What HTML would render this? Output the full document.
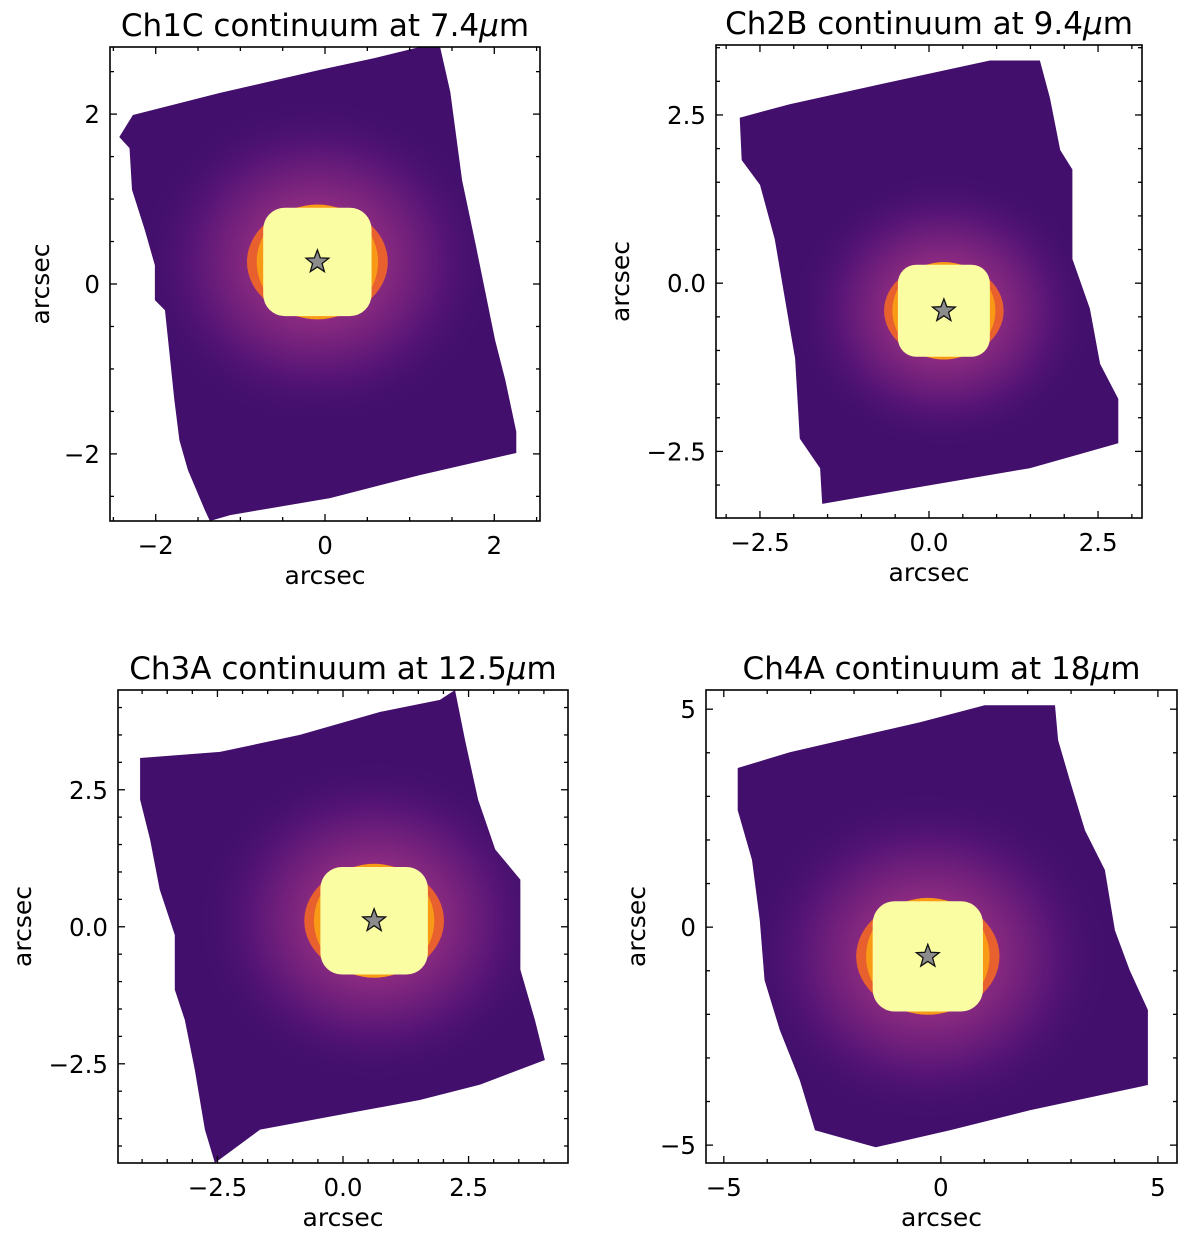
<!DOCTYPE html>
<html><head><meta charset="utf-8"><style>
html,body{margin:0;padding:0;background:#fff;}
svg{display:block;font-family:"DejaVu Sans","Liberation Sans",sans-serif;}
</style></head><body>
<svg id="fig" width="1200" height="1243" viewBox="0 0 1200 1243"></svg>
<script>
const titles = ["Ch1C continuum at 7.4", "Ch2B continuum at 9.4", "Ch3A continuum at 12.5", "Ch4A continuum at 18"];
const boxes = [[110,47,540,521],[716,45,1142,518],[118,690,568,1163],[706,690,1177,1163]];
const xlims = [[-2.54,2.54],[-3.15,3.15],[-4.48,4.48],[-5.41,5.44]];
const ylims = [[-2.79,2.79],[-3.49,3.54],[-4.31,4.32],[-5.41,5.44]];
const xticks = [[-2,0,2],[-2.5,0,2.5],[-2.5,0,2.5],[-5,0,5]];
const xtickLabels = [["\u22122","0","2"],["\u22122.5","0.0","2.5"],["\u22122.5","0.0","2.5"],["\u22125","0","5"]];
const yticks = [[-2,0,2],[-2.5,0,2.5],[-2.5,0,2.5],[-5,0,5]];
const ytickLabels = [["\u22122","0","2"],["\u22122.5","0.0","2.5"],["\u22122.5","0.0","2.5"],["\u22125","0","5"]];
const minorSteps = [0.5,0.5,0.5,1];
const footprint1 = [[-2.43,1.73],[-2.27,1.99],[-1.24,2.25],[-0.06,2.52],[0.59,2.66],[1.12,2.79],[1.36,2.79],[1.48,2.26],[1.62,1.22],[1.78,0.46],[2.01,-0.66],[2.13,-1.13],[2.26,-1.74],[2.26,-1.99],[1.12,-2.25],[0.06,-2.52],[-1.12,-2.72],[-1.36,-2.79],[-1.42,-2.66],[-1.62,-2.19],[-1.72,-1.84],[-1.78,-1.36],[-1.89,-0.31],[-2.01,-0.19],[-2.01,0.22],[-2.13,0.64],[-2.28,1.11],[-2.31,1.60]];
const footprint2 = [[-2.80,2.46],[-2.06,2.66],[-0.43,3.02],[0.90,3.31],[1.64,3.31],[1.79,2.75],[1.94,1.98],[2.12,1.69],[2.12,0.36],[2.38,-0.38],[2.53,-1.20],[2.80,-1.72],[2.80,-2.38],[1.49,-2.75],[-0.43,-3.08],[-1.58,-3.28],[-1.61,-2.75],[-1.91,-2.31],[-1.98,-1.12],[-2.13,-0.24],[-2.28,0.65],[-2.50,1.46],[-2.77,1.83]];
const footprint3 = [[-4.04,3.08],[-2.45,3.19],[-0.86,3.50],[0.74,3.92],[1.93,4.14],[2.23,4.32],[2.43,3.41],[2.69,2.32],[3.03,1.41],[3.53,0.86],[3.53,-0.78],[3.82,-1.70],[4.02,-2.43],[2.73,-2.88],[1.53,-3.16],[-0.06,-3.43],[-1.65,-3.70],[-2.55,-4.31],[-2.75,-3.70],[-2.95,-2.61],[-3.15,-1.70],[-3.35,-1.15],[-3.35,-0.15],[-3.65,0.68],[-3.84,1.59],[-4.04,2.32]];
const footprint4 = [[-4.68,3.65],[-3.48,4.01],[-2.10,4.33],[-0.48,4.70],[1.01,5.09],[2.63,5.09],[2.70,4.29],[2.97,3.37],[3.32,2.22],[3.78,1.31],[4.01,-0.07],[4.35,-0.99],[4.77,-1.90],[4.77,-3.62],[2.05,-4.20],[0.21,-4.66],[-1.50,-5.05],[-2.90,-4.66],[-3.25,-3.51],[-3.71,-2.36],[-4.06,-1.22],[-4.17,0.16],[-4.35,1.54],[-4.68,2.68]];
const footprints = [footprint1, footprint2, footprint3, footprint4];
const starX = [-0.09, 0.22, 0.62, -0.30];
const starY = [0.26, -0.41, 0.11, -0.67];
const coreR = [0.64, 0.68, 1.07, 1.27];

const NS = "http://www.w3.org/2000/svg";
const svg = document.getElementById("fig");
function mk(tag, attrs, parent){ const e=document.createElementNS(NS,tag); for(const k in attrs) e.setAttribute(k,attrs[k]); (parent||svg).appendChild(e); return e; }

const defs = mk("defs",{});
boxes.forEach((b,i)=>{
  const [x0,y0,x1,y1]=b;
  const sx = v => x0 + (v - xlims[i][0])/(xlims[i][1]-xlims[i][0])*(x1-x0);
  const sy = v => y1 - (v - ylims[i][0])/(ylims[i][1]-ylims[i][0])*(y1-y0);
  const pxu = (x1-x0)/(xlims[i][1]-xlims[i][0]);
  const g = mk("g",{});
  
  

  const rg = mk("radialGradient",{id:"glow"+i},defs);
  mk("stop",{offset:"0%","stop-color":"#c43c75"},rg);
  mk("stop",{offset:"35%","stop-color":"#8a2a80"},rg);
  mk("stop",{offset:"70%","stop-color":"#551476"},rg);
  mk("stop",{offset:"100%","stop-color":"#40106a","stop-opacity":"0"},rg);
  const cp = mk("clipPath",{id:"clip"+i},defs);
  const pts = footprints[i].map(p=>sx(p[0]).toFixed(1)+","+sy(p[1]).toFixed(1)).join(" ");
  mk("polygon",{points:pts},cp);

  const fp = mk("polygon",{points:pts,fill:"#420f6d"},g);
  
  
  const cx = sx(starX[i]), cy = sy(starY[i]), r = coreR[i]*pxu;
  const glow = mk("ellipse",{cx:cx,cy:cy,rx:r*3.4,ry:r*3.1,fill:"url(#glow"+i+")","clip-path":"url(#clip"+i+")"},g);
  
  
  const rim = mk("ellipse",{cx:cx,cy:cy,rx:r*1.3,ry:r*1.05,fill:"#e8602e"},g);
  
  
  const rim2 = mk("ellipse",{cx:cx,cy:cy,rx:r*1.12,ry:r*1.06,fill:"#f99a16"},g);
  
  
  const core = mk("rect",{x:cx-r,y:cy-r,width:2*r,height:2*r,rx:r*0.4,ry:r*0.4,fill:"#fbfda2"},g);
  
  
  const sp=[]; for(let k=0;k<10;k++){const a=-Math.PI/2+k*Math.PI/5; const rr=k%2?5:12; sp.push((cx+rr*Math.cos(a)).toFixed(1)+","+(cy+rr*Math.sin(a)).toFixed(1));}
  const st = mk("polygon",{points:sp.join(" "),fill:"#8c8c8c",stroke:"#111","stroke-width":1.3},g);
  
  

  const fr = mk("rect",{x:x0,y:y0,width:x1-x0,height:y1-y0,fill:"none",stroke:"#000","stroke-width":1.6},g);
  
  
  const ms = minorSteps[i];
  for(let v=Math.ceil(xlims[i][0]/ms)*ms; v<=xlims[i][1]; v+=ms){
    const major = xticks[i].some(t=>Math.abs(t-v)<1e-6); const L=major?7:4; const X=sx(v);
    mk("line",{x1:X,y1:y1,x2:X,y2:y1-L,stroke:"#000","stroke-width":1.3},g);
    mk("line",{x1:X,y1:y0,x2:X,y2:y0+L,stroke:"#000","stroke-width":1.3},g);
  }
  for(let v=Math.ceil(ylims[i][0]/ms)*ms; v<=ylims[i][1]; v+=ms){
    const major = yticks[i].some(t=>Math.abs(t-v)<1e-6); const L=major?7:4; const Y=sy(v);
    mk("line",{x1:x0,y1:Y,x2:x0+L,y2:Y,stroke:"#000","stroke-width":1.3},g);
    mk("line",{x1:x1,y1:Y,x2:x1-L,y2:Y,stroke:"#000","stroke-width":1.3},g);
  }
  xticks[i].forEach((v,k)=>{
    const t = mk("text",{x:sx(v),y:y1+33,"text-anchor":"middle","font-size":24.5},g);
    t.textContent = xtickLabels[i][k];
    
    
  });
  yticks[i].forEach((v,k)=>{
    const t = mk("text",{x:x0-10,y:sy(v)+9,"text-anchor":"end","font-size":24.5},g);
    t.textContent = ytickLabels[i][k];
    
    
  });
  const xl = mk("text",{x:(x0+x1)/2,y:y1+63,"text-anchor":"middle","font-size":25},g);
  xl.textContent = "arcsec";
  
  
  const ylx = i%2===0 ? (i===0?49:31) : (i===1?629:645);
  const yl = mk("text",{x:ylx,y:(y0+y1)/2,"text-anchor":"middle","font-size":25,transform:"rotate(-90 "+ylx+" "+(y0+y1)/2+")"},g);
  yl.textContent = "arcsec";
  
  
  const tt = mk("text",{x:(x0+x1)/2,y:y0-11,"text-anchor":"middle","font-size":31},g);
  tt.textContent = titles[i];
  const mu = mk("tspan",{"font-style":"italic"},tt); mu.textContent="\u03bc";
  const m = mk("tspan",{},tt); m.textContent="m";
  
  
});
</script>
</body></html>
